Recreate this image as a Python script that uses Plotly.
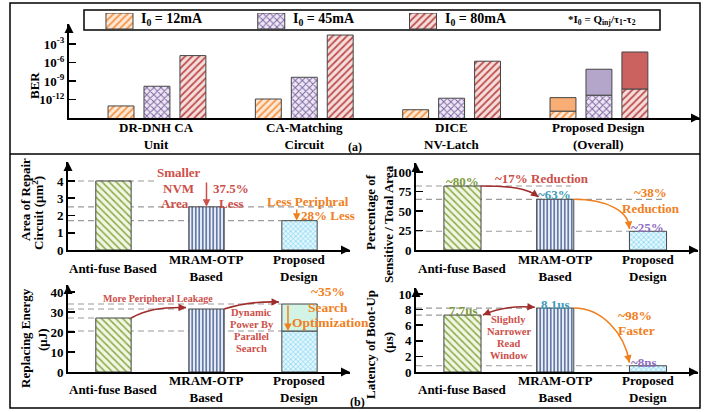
import plotly.graph_objects as go

W, H = 718, 412
FONT = "Liberation Serif"

# ---------------- data ----------------
BER_GROUPS = ["DR-DNH CA<br>Unit", "CA-Matching<br>Circuit", "DICE<br>NV-Latch", "Proposed Design<br>(Overall)"]
BER_SERIES = ["I<sub>0</sub> = 12mA", "I<sub>0</sub> = 45mA", "I<sub>0</sub> = 80mA"]
BER_12MA = [9e-14, 1.2e-12, 2.2e-14, 1.3e-14]
BER_45MA = [1.4e-10, 4e-9, 1.6e-12, 5e-12]
BER_80MA = [1.3e-5, 2.8e-2, 1.6e-6, 5e-11]
BER_PROPOSED_UPPER = [2e-12, 8e-8, 5e-5]      # top of the solid part (Proposed Design)
BER_TICKVALS = [1e-3, 1e-6, 1e-9, 1e-12]
BER_TICKTEXT = ["10<sup>-3</sup>", "10<sup>-6</sup>", "10<sup>-9</sup>", "10<sup>-12</sup>"]

DESIGNS = ["Anti-fuse Based", "MRAM-OTP<br>Based", "Proposed<br>Design"]
AREA = [4.0, 2.5, 1.7]
AREA_TICKS = [0, 1, 2, 3, 4]
SENSITIVE_PCT = [82, 65, 24]
PCT_TICKS = [0, 25, 50, 75, 100]
ENERGY = [27, 31.5, 34]
ENERGY_OPTIMIZED = 20.5
ENERGY_TICKS = [0, 10, 20, 30, 40]
LATENCY = [7.3, 8.2, 0.8]
LATENCY_TICKS = [0, 2, 4, 6, 8, 10]

# ---------------- styles ----------------
SERIES_STYLE = [
    dict(shape="/", fg="#f79646", bg="#fde9d9", solid="#f7ad74"),
    dict(shape="x", fg="#8064a2", bg="#ece7f4", solid="#b3a6ca"),
    dict(shape="/", fg="#c0504d", bg="#f4dedd", solid="#cb625f"),
]
DESIGN_STYLE = [
    dict(shape="\\", fg="#8aab45", bg="#f1f6e4", size=5, solidity=0.3),
    dict(shape="|", fg="#2a4680", bg="#eef3fb", size=3.5, solidity=0.35),
    dict(shape="x", fg="#5ac8ef", bg="#e6f7fd", size=3.5, solidity=0.3),
]
MINT = "#d3f3e4"
EDGE = "#454545"
RED_TXT = "#cd4f4a"
DARK_RED = "#a02c2c"
ORANGE = "#f07f1e"
GREEN_TXT = "#7d9a3c"
TEAL_TXT = "#3f9bb8"
PURPLE_TXT = "#8e6fc1"
DASH = dict(color="#9a9a9a", width=1.2, dash="6px,4px")


def xdom(a, b):
    return [a / W, b / W]


def ydom(top, bottom):
    return [1 - bottom / H, 1 - top / H]


fig = go.Figure()
shapes = []
ann = []

# ---------------- (a) BER chart ----------------
GROUP_STEP = 0.244
BAR_W = 0.176
for k, (name, vals, st) in enumerate(zip(BER_SERIES, [BER_12MA, BER_45MA, BER_80MA], SERIES_STYLE)):
    fig.add_trace(go.Bar(
        x=list(range(len(BER_GROUPS))), y=vals, name=name,
        offset=(k - 1) * GROUP_STEP - BAR_W / 2, width=BAR_W,
        marker=dict(color=st["bg"], line=dict(color=EDGE, width=1),
                    pattern=dict(shape=st["shape"], fgcolor=st["fg"], bgcolor=st["bg"],
                                 size=5, solidity=0.35, fillmode="replace")),
        xaxis="x", yaxis="y", showlegend=False))
    fig.add_trace(go.Bar(
        x=[len(BER_GROUPS) - 1], y=[BER_PROPOSED_UPPER[k] - vals[-1]], base=[vals[-1]],
        offset=(k - 1) * GROUP_STEP - BAR_W / 2, width=BAR_W,
        marker=dict(color=st["solid"], line=dict(color=EDGE, width=1)),
        xaxis="x", yaxis="y", showlegend=False))
    # legend swatch
    fig.add_trace(go.Bar(
        x=[k], y=[1], width=0.178,
        marker=dict(color=st["bg"], line=dict(color=EDGE, width=1),
                    pattern=dict(shape=st["shape"], fgcolor=st["fg"], bgcolor=st["bg"],
                                 size=5, solidity=0.35)),
        xaxis="x6", yaxis="y6", showlegend=False))

for i, lab in enumerate(BER_GROUPS):
    ann.append(dict(x=i, xref="x", y=1 - 136 / H, yref="paper", text=f"<b>{lab}</b>",
                    showarrow=False, font=dict(family=FONT, size=13, color="black"),
                    yanchor="middle"))


def bottom_bars(vals, xa, ya, width):
    for i, (v, st) in enumerate(zip(vals, DESIGN_STYLE)):
        fig.add_trace(go.Bar(
            x=[i], y=[v], width=width,
            marker=dict(color=st["bg"], line=dict(color=EDGE, width=1),
                        pattern=dict(shape=st["shape"], fgcolor=st["fg"], bgcolor=st["bg"],
                                     size=st["size"], solidity=st["solidity"], fillmode="replace")),
            xaxis=xa, yaxis=ya, showlegend=False))


bottom_bars(AREA, "x2", "y2", 0.38)
bottom_bars(SENSITIVE_PCT, "x3", "y3", 0.4)
bottom_bars([ENERGY[0], ENERGY[1], ENERGY_OPTIMIZED], "x4", "y4", 0.38)
fig.add_trace(go.Bar(x=[2], y=[ENERGY[2] - ENERGY_OPTIMIZED], base=[ENERGY_OPTIMIZED], width=0.38,
                     marker=dict(color=MINT, line=dict(color=EDGE, width=1)),
                     xaxis="x4", yaxis="y4", showlegend=False))
bottom_bars(LATENCY, "x5", "y5", 0.4)

# category labels bottom
for xa, yc in [("x2", 268), ("x3", 268), ("x4", 389), ("x5", 389)]:
    for i, lab in enumerate(DESIGNS):
        ann.append(dict(x=i, xref=xa, y=1 - yc / H, yref="paper", text=f"<b>{lab}</b>",
                        showarrow=False, font=dict(family=FONT, size=13, color="black"),
                        yanchor="middle"))

# ---------------- axes ----------------
common = dict(showgrid=False, zeroline=False, automargin=False, fixedrange=True)


def xaxis(dom, rng, anchor):
    return dict(domain=dom, range=rng, anchor=anchor, showline=True, linecolor="black",
                linewidth=2, showticklabels=False, ticks="", **common)


def yaxis(dom, rng, anchor, tickvals, ticktext=None, typ="linear"):
    return dict(domain=dom, range=rng, anchor=anchor, type=typ, showline=True, linecolor="black",
                linewidth=2, ticks="inside", ticklen=7, tickwidth=1.5, tickcolor="black",
                tickvals=tickvals, ticktext=ticktext,
                tickfont=dict(family=FONT, size=13, color="black", weight="bold"), **common)


layout_axes = dict(
    xaxis=xaxis(xdom(69, 700), [-0.597, 3.686], "y"),
    yaxis=yaxis(ydom(24, 118), [-15, 0.235], "x", BER_TICKVALS, BER_TICKTEXT, "log"),
    xaxis2=xaxis(xdom(68, 350), [-0.489, 2.543], "y2"),
    yaxis2=yaxis(ydom(162, 250), [0, 5.1], "x2", AREA_TICKS),
    xaxis3=xaxis(xdom(416, 698), [-0.501, 2.539], "y3"),
    yaxis3=yaxis(ydom(163, 250), [0, 111.5], "x3", PCT_TICKS),
    xaxis4=xaxis(xdom(68, 350), [-0.489, 2.543], "y4"),
    yaxis4=yaxis(ydom(285, 372), [0, 43.5], "x4", ENERGY_TICKS),
    xaxis5=xaxis(xdom(416, 698), [-0.501, 2.539], "y5"),
    yaxis5=yaxis(ydom(288, 372), [0, 10.77], "x5", LATENCY_TICKS),
    xaxis6=dict(domain=[43.6 / W, 498.9 / W], range=[-0.5, 2.5], anchor="y6", visible=False, **common),
    yaxis6=dict(domain=ydom(13, 29), range=[0, 1], anchor="x6", visible=False, **common),
)

# axis arrowheads
for xn, yn in [("x", "y"), ("x2", "y2"), ("x3", "y3"), ("x4", "y4"), ("x5", "y5")]:
    for (xx, yy, axp, ayp) in [(1, 0, -10, 0), (0, 1, 0, 10)]:
        ann.append(dict(x=xx, y=yy, xref=f"{xn} domain", yref=f"{yn} domain", ax=axp, ay=ayp,
                        showarrow=True, arrowhead=2, arrowsize=0.9, arrowwidth=2,
                        arrowcolor="black", text=""))


# ---------------- helpers ----------------
def text(x, y, s, size=13, color="black", angle=0, xanchor="center"):
    ann.append(dict(x=x / W, y=1 - y / H, xref="paper", yref="paper", text=f"<b>{s}</b>",
                    showarrow=False, font=dict(family=FONT, size=size, color=color),
                    xanchor=xanchor, yanchor="middle", textangle=angle))


def dline(xa, ya, x0, x1, y):
    shapes.append(dict(type="line", xref=xa, yref=ya, x0=x0, x1=x1, y0=y, y1=y, line=DASH, layer="below"))


def arrow(xa, ya, x0, y0, x1, y1, color, width=1.5):
    ann.append(dict(x=x1, y=y1, ax=x0, ay=y0, xref=xa, yref=ya, axref=xa, ayref=ya, text="",
                    showarrow=True, arrowhead=2, arrowsize=1, arrowwidth=width, arrowcolor=color))


def curve(xa, ya, p0, c1, c2, p3, color, start_head=False):
    shapes.append(dict(type="path", xref=xa, yref=ya,
                       path=f"M{p0[0]},{p0[1]} C{c1[0]},{c1[1]} {c2[0]},{c2[1]} {p3[0]},{p3[1]}",
                       line=dict(color=color, width=1.6)))

    def pt(t):
        return tuple((1 - t) ** 3 * p0[i] + 3 * (1 - t) ** 2 * t * c1[i] + 3 * (1 - t) * t * t * c2[i]
                     + t ** 3 * p3[i] for i in range(2))
    tail = pt(0.9)
    arrow(xa, ya, tail[0], tail[1], p3[0], p3[1], color)
    if start_head:
        tail = pt(0.1)
        arrow(xa, ya, tail[0], tail[1], p0[0], p0[1], color)


# ---------------- frame, legend ----------------
shapes.append(dict(type="rect", xref="paper", yref="paper", x0=10 / W, x1=700 / W, y0=1 - 408 / H, y1=1 - 3 / H,
                   line=dict(color="black", width=1.5)))
shapes.append(dict(type="line", xref="paper", yref="paper", x0=10 / W, x1=700 / W, y0=1 - 154 / H, y1=1 - 154 / H,
                   line=dict(color="black", width=1.5)))
shapes.append(dict(type="rect", xref="paper", yref="paper", x0=84 / W, x1=660 / W, y0=1 - 30 / H, y1=1 - 10 / H,
                   line=dict(color="black", width=1.5)))
for lx, s in zip([139, 291, 443], BER_SERIES):
    text(lx, 20, s, size=14, xanchor="left")
text(566, 20, "*I<sub>0</sub> = Q<sub>inj</sub>/τ<sub>1</sub>-τ<sub>2</sub>", size=11, xanchor="left")
text(34, 86, "BER", size=13, angle=-90)
text(355, 147, "(a)", size=12)
text(357, 402, "(b)", size=12)

# ---------------- Area chart ----------------
dline("x2", "y2", -0.489, 0.47, AREA[0])
dline("x2", "y2", -0.489, 2.36, AREA[1])
dline("x2", "y2", -0.489, 1.81, AREA[2])
arrow("x2", "y2", 1.0, AREA[0], 1.0, AREA[1], RED_TXT)
arrow("x2", "y2", 1.97, 2.43, 1.97, AREA[2], ORANGE)
text(179, 173, "Smaller", color=RED_TXT)
text(178, 188, "NVM", color=RED_TXT)
text(175, 203, "Area", color=RED_TXT)
text(231, 188, "37.5%", color=RED_TXT)
text(231, 203, "Less", color=RED_TXT)
text(308, 201, "Less Periphral", color=ORANGE)
text(328, 215, "28% Less", color=ORANGE)
text(25, 200, "Area of Repair", angle=-90)
text(38, 213, "Circuit (μm<sup>2</sup>)", angle=-90)

# ---------------- Percentage chart ----------------
dline("x3", "y3", -0.501, 1.17, SENSITIVE_PCT[0])
dline("x3", "y3", -0.501, 2.15, SENSITIVE_PCT[1])
dline("x3", "y3", -0.501, 1.8, SENSITIVE_PCT[2])
curve("x3", "y3", (0.2, SENSITIVE_PCT[0]), (0.5, SENSITIVE_PCT[0]), (0.7, SENSITIVE_PCT[0] - 2),
      (0.82, SENSITIVE_PCT[1] + 3), DARK_RED)
curve("x3", "y3", (1.2, SENSITIVE_PCT[1]), (1.55, SENSITIVE_PCT[1]), (1.8, 50),
      (1.8, SENSITIVE_PCT[2] + 3), ORANGE)
text(462, 181, "~80%", color=GREEN_TXT)
text(554, 194, "~63%", color=TEAL_TXT)
text(647, 227, "~25%", color=PURPLE_TXT)
text(542, 179, "~17% Reduction", color=RED_TXT)
text(650, 192, "~38%", color=ORANGE)
text(651, 208, "Reduction", color=ORANGE)
text(370, 212, "Percentage of", angle=-90)
text(388, 224, "Sensitive / Total Area", angle=-90)

# ---------------- Energy chart ----------------
dline("x4", "y4", -0.489, 1.81, ENERGY[2])
dline("x4", "y4", -0.489, 0.81, ENERGY[1])
dline("x4", "y4", -0.489, -0.19, ENERGY[0])
dline("x4", "y4", -0.489, 1.81, ENERGY_OPTIMIZED)
curve("x4", "y4", (0.19, ENERGY[0]), (0.35, 31), (0.5, 32.5), (0.78, ENERGY[1] + 0.7), DARK_RED)
curve("x4", "y4", (1.19, ENERGY[1]), (1.35, 34), (1.55, 35.3), (1.78, ENERGY[2] + 1), DARK_RED)
arrow("x4", "y4", 1.876, ENERGY[2], 1.876, ENERGY_OPTIMIZED, ORANGE)
text(158, 298, "More Peripheral Leakage", size=10, color=RED_TXT)
for yy, s in zip([312, 324, 336, 348], ["Dynamic", "Power By", "Parallel", "Search"]):
    text(252, yy, s, size=10.5, color=RED_TXT)
text(328, 291, "~35%", size=13.5, color=ORANGE)
text(328, 307, "Search", size=13.5, color=ORANGE)
text(330, 322, "Optimization", size=13.5, color=ORANGE)
text(25, 338, "Replacing Energy", angle=-90)
text(42, 340, "(μJ)", angle=-90)

# ---------------- Latency chart ----------------
dline("x5", "y5", -0.501, 0.8, LATENCY[1])
dline("x5", "y5", -0.501, -0.2, LATENCY[0])
dline("x5", "y5", -0.501, 1.8, LATENCY[2])
curve("x5", "y5", (0.22, LATENCY[0]), (0.4, 8.3), (0.6, 8.5), (0.78, LATENCY[1] + 0.1), DARK_RED, start_head=True)
curve("x5", "y5", (1.2, LATENCY[1]), (1.5, LATENCY[1]), (1.75, 5), (1.8, LATENCY[2] + 0.4), ORANGE)
text(463, 310, "7.7us", color=GREEN_TXT)
text(555, 304, "8.1us", color=TEAL_TXT)
text(644, 362, "~8ns", color=PURPLE_TXT)
for yy, s in zip([319, 331, 343, 355], ["Slightly", "Narrower", "Read", "Window"]):
    text(509, yy, s, size=10.5, color=RED_TXT)
text(635, 315, "~98%", size=13.5, color=ORANGE)
text(636, 330, "Faster", size=13.5, color=ORANGE)
text(370, 345, "Latency of Boot-Up", angle=-90)
text(388, 342, "(μs)", angle=-90)

fig.update_layout(
    width=W, height=H, autosize=False, template="none",
    margin=dict(l=0, r=0, t=0, b=0),
    paper_bgcolor="white", plot_bgcolor="rgba(0,0,0,0)",
    barmode="overlay", showlegend=False,
    font=dict(family=FONT, color="black"),
    shapes=shapes, annotations=ann,
    **layout_axes,
)

fig.write_html("out.html", config={"displayModeBar": False, "staticPlot": True},
               post_script="document.body.style.margin='0';document.body.style.overflow='hidden';")
